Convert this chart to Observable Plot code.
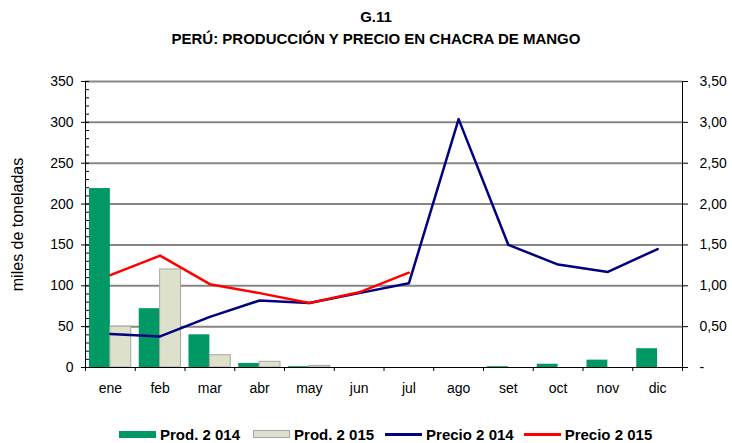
<!DOCTYPE html>
<html>
<head>
<meta charset="utf-8">
<script src="https://cdn.jsdelivr.net/npm/d3@7"></script>
<script src="https://cdn.jsdelivr.net/npm/@observablehq/plot@0.6"></script>
<style>
  html, body { margin: 0; padding: 0; background: #fff; }
  #wrap { position: relative; width: 732px; height: 443px; font-family: "Liberation Sans", Arial, sans-serif; color: #000; }
  #title { position: absolute; left: 0; top: 6px; width: 712px; padding-left: 20px; text-align: center; font-weight: bold; font-size: 15px; line-height: 22px; }
  #chart { position: absolute; left: 0; top: 60px; }
  #legend { position: absolute; left: 0; top: 425px; width: 732px; height: 18px; display: flex; align-items: center; justify-content: flex-start; font-weight: bold; font-size: 15px; }
  .item { display: flex; align-items: center; }
  .sw { width: 37px; margin-right: 4px; box-sizing: border-box; }
</style>
</head>
<body>
<div id="wrap">
  <div id="title">G.11<br>PERÚ: PRODUCCIÓN Y PRECIO EN CHACRA DE MANGO</div>
  <div id="chart"></div>
  <div id="legend"></div>
</div>
<script>
const months = ["ene","feb","mar","abr","may","jun","jul","ago","set","oct","nov","dic"];
const prod2014 = [219, 72, 40, 5, 1, 0, 0, 0, 1, 4, 9, 23];
const prod2015 = [50, 120, 15, 7, 2, 0, 0];
const precio2014 = [0.41, 0.38, 0.62, 0.82, 0.79, 0.91, 1.03, 3.04, 1.50, 1.26, 1.17, 1.45];
const precio2015 = [1.13, 1.37, 1.02, 0.91, 0.79, 0.92, 1.16];
const leftTicks = [0, 50, 100, 150, 200, 250, 300, 350];
const seriesNames = ["Prod. 2 014", "Prod. 2 015", "Precio 2 014", "Precio 2 015"];
const colors = { p14: "#009966", p15: "#dde0cb", p15stroke: "#a6a6a6", c14: "#000080", c15: "#ff0000" };

const rows14 = months.map((m, i) => ({ i, m, v: prod2014[i] })).filter(d => d.v > 0);
const rows15 = months.map((m, i) => ({ i, m, v: prod2015[i] })).filter(d => d.v > 0);
const line14 = months.map((m, i) => ({ i, m, v: precio2014[i] }));
const line15 = precio2015.map((v, i) => ({ i, m: months[i], v }));

const chart = Plot.plot({
  width: 732,
  height: 345,
  marginLeft: 85,
  marginRight: 50,
  marginTop: 21,
  marginBottom: 38,
  style: { fontFamily: "Liberation Sans, Arial, sans-serif", fontSize: "14px", color: "#000", background: "#fff", overflow: "visible" },
  x: { type: "linear", domain: [0, 12] },
  y: { domain: [0, 350] },
  marks: [
    Plot.ruleY(leftTicks.filter(d => d > 0), { stroke: "#868686", strokeWidth: 2 }),
    Plot.rectY(rows14, { x1: d => d.i + 0.08, x2: d => d.i + 0.5, y1: 0, y2: "v", fill: colors.p14 }),
    Plot.rectY(rows15, { x1: d => d.i + 0.5, x2: d => d.i + 0.92, y1: 0, y2: "v", fill: colors.p15, stroke: colors.p15stroke, strokeWidth: 1 }),
    Plot.ruleY([0], { stroke: "#000", strokeWidth: 1 }),
    Plot.ruleX([0, 12], { stroke: "#000", strokeWidth: 1 }),
    Plot.axisY(d3.range(0, 351, 10), { anchor: "left", tickSize: -4, tickFormat: () => "", label: null }),
    Plot.axisY(leftTicks, { anchor: "left", tickSize: 4, tickPadding: 8, label: null }),
    Plot.axisY(leftTicks, { anchor: "right", tickSize: 5, tickPadding: 12, label: null,
      tickFormat: d => d === 0 ? "-" : (d / 100).toFixed(2).replace(".", ",") }),
    Plot.axisX(d3.range(0, 13), { tickSize: 4, tickFormat: () => "", label: null }),
    Plot.axisX(d3.range(12).map(i => i + 0.5), { tickSize: 0, tickPadding: 16, label: null,
      tickFormat: d => months[Math.floor(d)] }),
    Plot.text(["miles de toneladas"], { frameAnchor: "left", textAnchor: "middle", rotate: -90, dx: -68, fontSize: 16 }),
    Plot.line(line14, { x: d => d.i + 0.5, y: d => d.v * 100, stroke: colors.c14, strokeWidth: 2.5 }),
    Plot.line(line15, { x: d => d.i + 0.5, y: d => d.v * 100, stroke: colors.c15, strokeWidth: 2.5 })
  ]
});
document.getElementById("chart").appendChild(chart);

// Legend
const legend = d3.select("#legend").style("padding-left", "119px");
const specs = [
  { name: seriesNames[0], h: 7, bg: colors.p14, border: "none", gap: 13 },
  { name: seriesNames[1], h: 8, bg: colors.p15, border: "1px solid " + colors.p15stroke, gap: 11 },
  { name: seriesNames[2], h: 3, bg: colors.c14, border: "none", gap: 10 },
  { name: seriesNames[3], h: 3, bg: colors.c15, border: "none", gap: 0 }
];
specs.forEach(s => {
  const it = legend.append("div").attr("class", "item").style("margin-right", s.gap + "px");
  it.append("div").attr("class", "sw").style("height", s.h + "px").style("background", s.bg).style("border", s.border);
  it.append("span").text(s.name);
});
</script>
</body>
</html>
